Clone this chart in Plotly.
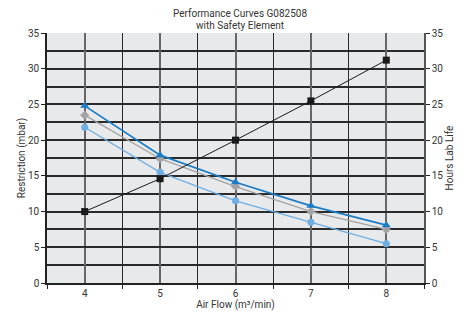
import plotly.graph_objects as go

air_flow = [4, 5, 6, 7, 8]
hours_lab_life = [10.0, 14.6, 20.0, 25.5, 31.2]
restriction_a = [24.8, 17.9, 14.1, 10.8, 8.1]
restriction_b = [23.5, 17.4, 13.5, 10.0, 7.5]
restriction_c = [21.8, 15.5, 11.5, 8.5, 5.5]
title_lines = ["Performance Curves G082508", "with Safety Element"]

FONT = "Roboto, Liberation Sans, sans-serif"
TFONT = dict(family=FONT, size=10, color="#333333")

fig = go.Figure()
fig.add_trace(go.Scatter(x=air_flow, y=restriction_b, mode="lines+markers",
                         line=dict(color="#a3a3a3", width=1.3),
                         marker=dict(symbol="diamond", size=7, color="#a3a3a3")))
fig.add_trace(go.Scatter(x=air_flow, y=restriction_c, mode="lines+markers",
                         line=dict(color="#6eaee2", width=1.3),
                         marker=dict(symbol="circle", size=7, color="#6eaee2")))
fig.add_trace(go.Scatter(x=air_flow, y=restriction_a, mode="lines+markers",
                         line=dict(color="#1a7cc4", width=1.7),
                         marker=dict(symbol="triangle-up", size=8, color="#1a7cc4")))
fig.add_trace(go.Scatter(x=air_flow, y=hours_lab_life, mode="lines+markers", yaxis="y2",
                         line=dict(color="#1a1a1a", width=1),
                         marker=dict(symbol="square", size=7, color="#1a1a1a")))

# title lines, positioned in plot-fraction units above the plotting area
for txt, yy in zip(title_lines, [1.076, 1.030]):
    fig.add_annotation(text=txt, xref="paper", yref="paper", x=0.512, y=yy,
                       xanchor="center", yanchor="middle", showarrow=False,
                       font=TFONT)

fig.update_layout(
    width=458, height=313,
    margin=dict(l=39, r=42, t=25, b=38, autoexpand=False),
    paper_bgcolor="white", plot_bgcolor="#e8e9eb",
    showlegend=False,
    font=TFONT,
    xaxis=dict(range=[3.5, 8.5], tickvals=air_flow, ticks="", showgrid=True,
               gridcolor="#666666", gridwidth=2, zeroline=False,
               showline=True, linecolor="#222222", linewidth=1.5,
               title=dict(text="Air Flow (m³/min)", standoff=2, font=TFONT),
               automargin=False,
               minor=dict(tick0=3.5, dtick=1, ticks="outside", ticklen=4,
                          tickcolor="#222222", showgrid=True, gridcolor="#2a2a2a", gridwidth=1.2),
               fixedrange=True),
    yaxis=dict(range=[0, 35], dtick=5, ticks="outside", ticklen=4, tickcolor="#222222",
               showgrid=True, gridcolor="#2a2a2a", gridwidth=1.5, zeroline=False,
               showline=True, linecolor="#222222", linewidth=1.5,
               title=dict(text="Restriction (mbar)", standoff=1, font=TFONT),
               automargin=False,
               minor=dict(dtick=2.5, showgrid=True, gridcolor="#2a2a2a", gridwidth=1.5),
               fixedrange=True),
    yaxis2=dict(range=[0, 35], dtick=5, overlaying="y", side="right", ticks="outside",
                ticklen=4, tickcolor="#222222", showgrid=False, zeroline=False,
                showline=True, linecolor="#555555", linewidth=1.5,
                title=dict(text="Hours Lab Life", standoff=4, font=TFONT),
                automargin=False,
                fixedrange=True),
)

fig.write_html("out.html")
